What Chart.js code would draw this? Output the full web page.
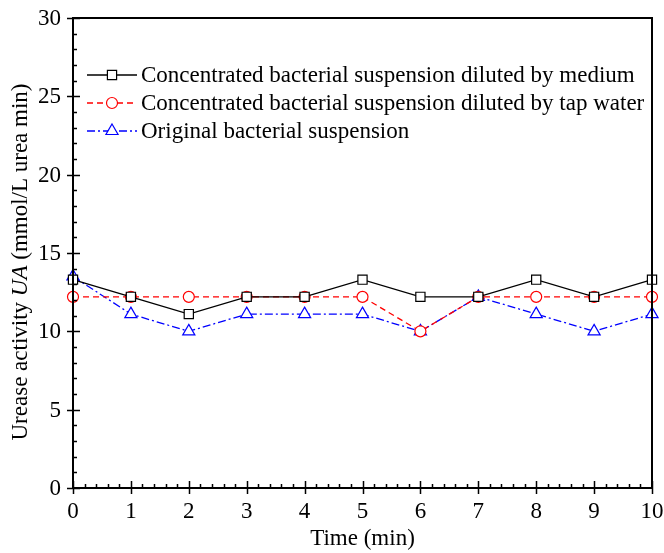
<!DOCTYPE html>
<html>
<head>
<meta charset="utf-8">
<script src="https://cdn.jsdelivr.net/npm/chart.js@4"></script>
<style>
  html, body { margin: 0; padding: 0; background: #fff; }
  #wrap { width: 664px; height: 553px; }
</style>
</head>
<body>
<div id="wrap"><canvas id="chart-1" width="664" height="553"></canvas></div>
<script>
const timeValues = [0, 1, 2, 3, 4, 5, 6, 7, 8, 9, 10];
const mediumValues = [13.3, 12.2, 11.1, 12.2, 12.2, 13.3, 12.2, 12.2, 13.3, 12.2, 13.3];
const tapWaterValues = [12.2, 12.2, 12.2, 12.2, 12.2, 12.2, 10.0, 12.2, 12.2, 12.2, 12.2];
const originalValues = [13.5, 11.1, 10.0, 11.1, 11.1, 11.1, 10.0, 12.2, 11.1, 10.0, 11.1];
const seriesNames = [
  "Concentrated bacterial suspension diluted by medium",
  "Concentrated bacterial suspension diluted by tap water",
  "Original bacterial suspension"
];
const xTicks = [0, 1, 2, 3, 4, 5, 6, 7, 8, 9, 10];
const yTicks = [0, 5, 10, 15, 20, 25, 30];

const FONT = "'Liberation Serif', 'Times New Roman', serif";

function pairs(ys) {
  return timeValues.map((t, i) => ({ x: t, y: ys[i] }));
}

// axes frame, ticks, titles and legend
const decor = {
  id: "decor",
  afterDraw(chart) {
    const ctx = chart.ctx;
    const a = chart.chartArea;
    const xs = chart.scales.x, ys = chart.scales.y;
    ctx.save();
    ctx.strokeStyle = "#000";
    ctx.lineWidth = 2;
    ctx.strokeRect(a.left, a.top, a.right - a.left, a.bottom - a.top);

    ctx.lineWidth = 1.5;
    ctx.beginPath();
    // x ticks
    for (let v = 0; v <= 10.001; v += 0.2) {
      const px = Math.round(xs.getPixelForValue(v)) + 0.5;
      const major = Math.abs(v - Math.round(v)) < 0.01;
      if (major) { ctx.moveTo(px, a.bottom + 6); ctx.lineTo(px, a.bottom - 7); }
      else { ctx.moveTo(px, a.bottom); ctx.lineTo(px, a.bottom - 4); }
    }
    // y ticks
    for (let v = 0; v <= 30; v += 1) {
      const py = Math.round(ys.getPixelForValue(v)) + 0.5;
      if (v % 5 === 0) { ctx.moveTo(a.left - 6, py); ctx.lineTo(a.left + 7, py); }
      else { ctx.moveTo(a.left, py); ctx.lineTo(a.left + 4, py); }
    }
    ctx.stroke();

    // tick labels
    ctx.fillStyle = "#000";
    ctx.font = "23px " + FONT;
    ctx.textAlign = "center";
    ctx.textBaseline = "top";
    xTicks.forEach(v => ctx.fillText(String(v), xs.getPixelForValue(v), a.bottom + 12));
    ctx.textAlign = "right";
    ctx.textBaseline = "middle";
    yTicks.forEach(v => ctx.fillText(String(v), a.left - 12, ys.getPixelForValue(v) + 1));

    // axis titles
    ctx.font = "23px " + FONT;
    ctx.textAlign = "center";
    ctx.textBaseline = "middle";
    ctx.fillText("Time (min)", (a.left + a.right) / 2, 539);

    ctx.save();
    ctx.translate(21, 262);
    ctx.rotate(-Math.PI / 2);
    const parts = [
      ["Urease activity ", "23px " + FONT],
      ["UA", "italic 23px " + FONT],
      [" (mmol/L urea min)", "23px " + FONT]
    ];
    let total = 0;
    parts.forEach(p => { ctx.font = p[1]; total += ctx.measureText(p[0]).width; });
    let cx = -total / 2;
    ctx.textAlign = "left";
    parts.forEach(p => {
      ctx.font = p[1];
      ctx.fillText(p[0], cx, 0);
      cx += ctx.measureText(p[0]).width;
    });
    ctx.restore();

    // legend
    chart.data.datasets.forEach((ds, i) => {
      const y = 75 + i * 28;
      ctx.save();
      ctx.strokeStyle = ds.borderColor;
      ctx.lineWidth = ds.borderWidth;
      ctx.setLineDash(ds.borderDash || []);
      ctx.beginPath();
      ctx.moveTo(87, y); ctx.lineTo(137, y);
      ctx.stroke();
      ctx.setLineDash([]);
      ctx.fillStyle = "#fff";
      ctx.lineWidth = 1.2;
      Chart.helpers.drawPoint(ctx, {
        pointStyle: ds.pointStyle, radius: ds.pointRadius, borderWidth: 1.2
      }, 112, y);
      ctx.restore();
      ctx.fillStyle = "#000";
      ctx.font = "23px " + FONT;
      ctx.textAlign = "left";
      ctx.textBaseline = "middle";
      ctx.fillText(seriesNames[i], 141, y + 1);
    });
    ctx.restore();
  }
};

new Chart("chart-1", {
  type: "line",
  data: {
    datasets: [{
      label: seriesNames[0],
      data: pairs(mediumValues),
      borderColor: "#000000",
      borderWidth: 1.3,
      pointStyle: "rect",
      pointRadius: 6.5,
      pointBorderWidth: 1.2,
      pointBackgroundColor: "#ffffff",
      pointBorderColor: "#000000",
      fill: false
    }, {
      label: seriesNames[1],
      data: pairs(tapWaterValues),
      borderColor: "#ff0000",
      borderWidth: 1.3,
      borderDash: [6, 4],
      pointStyle: "circle",
      pointRadius: 5.5,
      pointBorderWidth: 1.2,
      pointBackgroundColor: "#ffffff",
      pointBorderColor: "#ff0000",
      fill: false
    }, {
      label: seriesNames[2],
      data: pairs(originalValues),
      borderColor: "#0000ff",
      borderWidth: 1.3,
      borderDash: [8, 3, 2, 3],
      pointStyle: "triangle",
      pointRadius: 7,
      pointBorderWidth: 1.2,
      pointBackgroundColor: "#ffffff",
      pointBorderColor: "#0000ff",
      fill: false
    }]
  },
  options: {
    responsive: false,
    animation: false,
    clip: false,
    layout: { padding: { left: 0, top: 18, right: 12, bottom: 0 } },
    scales: {
      x: {
        type: "linear",
        min: 0,
        max: 10,
        grid: { display: false },
        border: { display: false },
        ticks: { display: false },
        afterFit(scale) { scale.height = 65; }
      },
      y: {
        min: 0,
        max: 30,
        grid: { display: false },
        border: { display: false },
        ticks: { display: false },
        afterFit(scale) { scale.width = 73; }
      }
    },
    plugins: {
      legend: { display: false },
      tooltip: { enabled: false }
    }
  },
  plugins: [decor]
});
</script>
</body>
</html>
